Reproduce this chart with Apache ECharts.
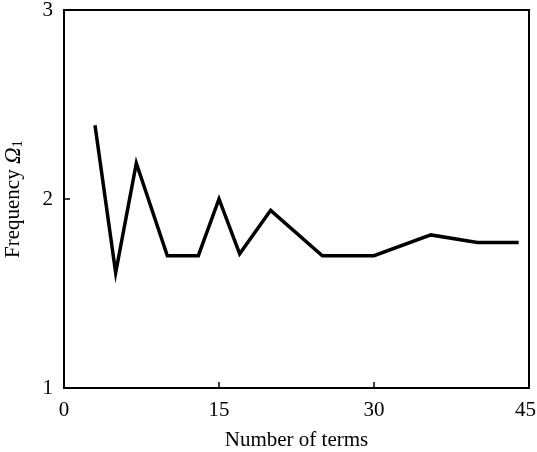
<!DOCTYPE html>
<html>
<head>
<meta charset="utf-8">
<script src="https://cdn.jsdelivr.net/npm/echarts@6/dist/echarts.min.js"></script>
<style>
  html, body { margin: 0; padding: 0; background: #fff; }
  #chart { width: 537px; height: 452px; }
</style>
</head>
<body>
<div id="chart"></div>
<script>
// number of terms vs frequency
var terms = [3, 5, 7, 10, 13, 15, 17, 20, 25, 30, 35.5, 40, 44];
var freq = [2.39, 1.61, 2.19, 1.70, 1.70, 2.00, 1.71, 1.94, 1.70, 1.70, 1.81, 1.77, 1.77];
var xTicks = [0, 15, 30, 45];
var yTicks = [1, 2, 3];

var font = 'Liberation Serif';
var myChart = echarts.init(document.getElementById('chart'));

var points = terms.map(function (t, i) { return [t, freq[i]]; });
var xMax = xTicks[xTicks.length - 1];

myChart.setOption({
    backgroundColor: '#fff',
    animation: false,
    grid: {
        left: 64, right: 8, top: 10, bottom: 64,
        outerBoundsMode: 'none',
        show: true, borderColor: '#000', borderWidth: 2
    },
    xAxis: {
        type: 'value',
        min: xTicks[0], max: xMax, interval: 15,
        name: 'Number of terms',
        nameLocation: 'middle',
        nameGap: 42,
        nameTextStyle: { fontFamily: font, fontSize: 21, color: '#000' },
        axisLine: { show: true, lineStyle: { color: '#000', width: 2 } },
        axisTick: { show: true, inside: true, length: 6, lineStyle: { color: '#000', width: 1.5 } },
        axisLabel: {
            fontFamily: font, fontSize: 21, color: '#000', margin: 12,
            // last label sits a little left so it stays in the window
            formatter: function (v) { return v === xMax ? '{r|' + v + '}' : String(v); },
            rich: { r: { fontFamily: font, fontSize: 21, color: '#000', padding: [0, 7, 0, 0] } }
        },
        splitLine: { show: false }
    },
    yAxis: {
        type: 'value',
        min: yTicks[0], max: yTicks[yTicks.length - 1], interval: 1,
        name: '{a|Frequency }{b|Ω}{c|1}',
        nameLocation: 'middle',
        nameRotate: 90,
        nameGap: 38,
        nameTextStyle: {
            rich: {
                a: { fontFamily: font, fontSize: 21, color: '#000' },
                b: { fontFamily: font, fontSize: 23, fontStyle: 'italic', color: '#000' },
                c: { fontFamily: font, fontSize: 15, color: '#000', verticalAlign: 'bottom', padding: [10, 0, 0, 0] }
            }
        },
        axisLine: { show: true, lineStyle: { color: '#000', width: 2 } },
        axisTick: { show: true, inside: true, length: 6, lineStyle: { color: '#000', width: 1.5 } },
        axisLabel: { fontFamily: font, fontSize: 21, color: '#000', margin: 11 },
        splitLine: { show: false }
    },
    series: [{
        type: 'line',
        data: points,
        showSymbol: false,
        symbol: 'none',
        lineStyle: { color: '#000', width: 3.5, join: 'miter' }
    }]
});
</script>
</body>
</html>
